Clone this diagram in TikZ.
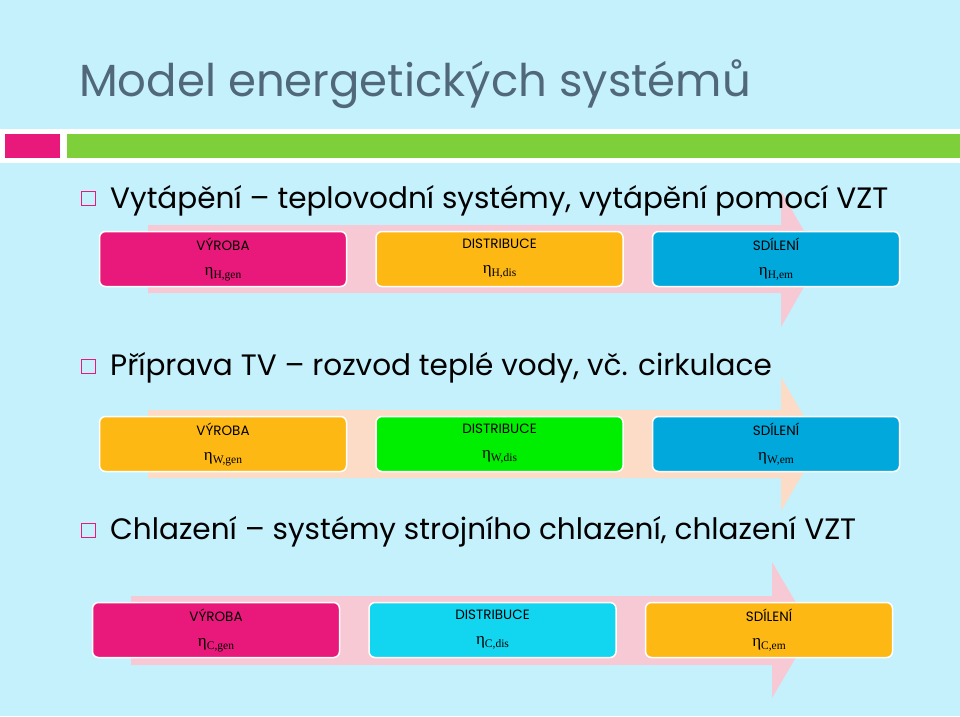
\documentclass[tikz,border=0pt]{standalone}
\usepackage{fontspec}
\setmainfont{Poppins}
\newfontfamily\etafont{Liberation Serif}
\usetikzlibrary{positioning}
\definecolor{bgcyan}{HTML}{C5F1FC}
\definecolor{titlegrey}{HTML}{50687A}
\definecolor{barpink}{HTML}{E8197A}
\definecolor{bargreen}{HTML}{7ED03A}
\definecolor{arrowpink}{HTML}{F7C9D5}
\definecolor{arrowpeach}{HTML}{FCDCC6}
\definecolor{stageorange}{HTML}{FDB813}
\definecolor{stageblue}{HTML}{00A8DC}
\definecolor{stagegreen}{HTML}{00EE00}
\definecolor{stagecyan}{HTML}{12D6F0}
\tikzset{
    stage/.style={draw=white, line width=1.5pt, rounded corners=6pt, minimum width=247pt,
        minimum height=55pt, align=center, inner sep=1pt, font=\fontsize{13.5}{25}\selectfont},
    bullettext/.style={anchor=base west, font=\fontsize{29.5}{34}\selectfont, inner sep=0pt},
    bulletbox/.style={draw=barpink, line width=1pt, minimum size=14pt, inner sep=0pt}
}
\newcommand{\eff}[1]{{\etafont\fontsize{17}{18}\selectfont η}\raisebox{-3pt}{\etafont\fontsize{11.5}{12}\selectfont #1}}

\begin{document}
\begin{tikzpicture}[x=1pt,y=-1pt]
    %% Background
    \fill[bgcyan] (0,0) rectangle (960,716);
    \fill[white] (0,129) rectangle (960,163);
    \fill[barpink] (5,134) rectangle (60,158);
    \fill[bargreen] (67,134) rectangle (960,158);
    \node[anchor=base west, text=titlegrey, font=\fontsize{45}{50}\selectfont, inner sep=0pt] (title) at (79,96) {Model energetických systémů};
    %% Arrows
    \fill[arrowpink] (148,225) -- (781,225) -- (781,191) -- (820,259) -- (781,327) -- (781,293) -- (148,293) -- cycle;
    \fill[arrowpeach] (148,410) -- (781,410) -- (781,377) -- (820,444) -- (781,511) -- (781,478) -- (148,478) -- cycle;
    \fill[arrowpink] (131,596) -- (772,596) -- (772,562) -- (812,630) -- (772,698) -- (772,665) -- (131,665) -- cycle;
    %% Heating
    \node[bulletbox] (b1) at (88,198) {};
    \node[bullettext] (t1) at (110,208) {Vytápění – teplovodní systémy, vytápění pomocí VZT};
    \node[stage, fill=barpink] (hgen) at (223,259) {VÝROBA\\\eff{H,gen}};
    \node[stage, fill=stageorange, right=28pt of hgen] (hdis) {DISTRIBUCE\\\eff{H,dis}};
    \node[stage, fill=stageblue, right=28pt of hdis] (hem) {SDÍLENÍ\\\eff{H,em}};
    %% Hot water
    \node[bulletbox] (b2) at (88,366) {};
    \node[bullettext] (t2) at (110,375) {Příprava TV – rozvod teplé vody, vč. cirkulace};
    \node[stage, fill=stageorange] (wgen) at (223,444) {VÝROBA\\\eff{W,gen}};
    \node[stage, fill=stagegreen, right=28pt of wgen] (wdis) {DISTRIBUCE\\\eff{W,dis}};
    \node[stage, fill=stageblue, right=28pt of wdis] (wem) {SDÍLENÍ\\\eff{W,em}};
    %% Cooling
    \node[bulletbox] (b3) at (88,530) {};
    \node[bullettext] (t3) at (110,539) {Chlazení – systémy strojního chlazení, chlazení VZT};
    \node[stage, fill=barpink] (cgen) at (216,630) {VÝROBA\\\eff{C,gen}};
    \node[stage, fill=stagecyan, right=28pt of cgen] (cdis) {DISTRIBUCE\\\eff{C,dis}};
    \node[stage, fill=stageorange, right=28pt of cdis] (cem) {SDÍLENÍ\\\eff{C,em}};
\end{tikzpicture}
\end{document}
